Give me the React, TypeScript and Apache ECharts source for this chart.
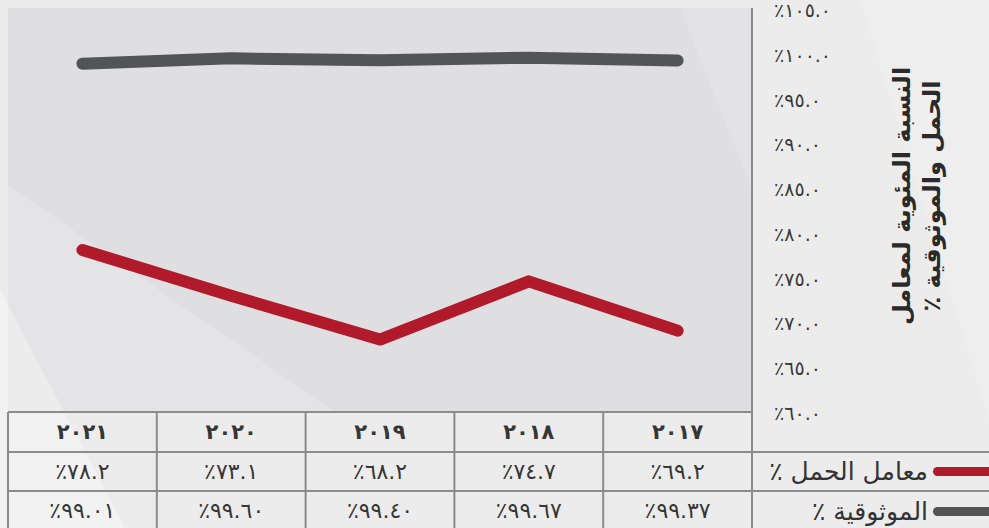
import React, { useEffect, useRef } from "react";
import * as echarts from "echarts";

// ---- data ----
const CATEGORIES = ["2017", "2018", "2019", "2020", "2021"];
const LOAD_FACTOR = [69.2, 74.7, 68.2, 73.1, 78.2];
const RELIABILITY = [99.37, 99.67, 99.4, 99.6, 99.01];
const SERIES_NAMES = ["معامل الحمل ٪", "الموثوقية ٪"];
const AXIS_TITLE = ["النسبة المئوية لمعامل", "الحمل والموثوقية ٪"];
const Y_MIN = 60;
const Y_MAX = 105;
const Y_STEP = 5;

const RLM = "\u200F";
const FONT = "DejaVu Sans";
const W = 989;
const H = 528;
const G_LEFT = 8;
const G_RIGHT_X = 752;
const G_TOP = 10;
const G_BOTTOM_Y = 413;

const toAr = (s: string) => s.replace(/[0-9]/g, (d) => "٠١٢٣٤٥٦٧٨٩"[+d]);
const pct = (v: number, dec: number) => "٪" + toAr(v.toFixed(dec));

export default function App() {
  const ref = useRef<HTMLDivElement>(null);
  useEffect(() => {
    document.body.style.margin = "0";
    const chart = echarts.init(ref.current!, null, { renderer: "svg" });
    const lineColor = "#8b8b8b";
    const colW = (G_RIGHT_X - G_LEFT) / CATEGORIES.length;
    const lines: any[] = [];
    const hl = (x1: number, x2: number, y: number) =>
      lines.push({ type: "line", shape: { x1, y1: y, x2, y2: y }, style: { stroke: lineColor, lineWidth: 2 }, z: 5 });
    const vl = (x: number, y1: number, y2: number) =>
      lines.push({ type: "line", shape: { x1: x, y1, x2: x, y2 }, style: { stroke: lineColor, lineWidth: 2 }, z: 5 });
    hl(G_LEFT, G_RIGHT_X, 412);
    hl(G_LEFT, W, 452);
    hl(G_LEFT, W, 491);
    for (let i = 0; i < CATEGORIES.length; i++) vl(G_LEFT + i * colW, 412, H);
    vl(G_RIGHT_X, 8, H);

    const valueAxis = (offset: number, fmt: (v: string) => string, bold = false) => ({
      type: "category",
      data: CATEGORIES,
      inverse: true,
      boundaryGap: true,
      position: "bottom",
      offset,
      axisLine: { show: false },
      axisTick: { show: false },
      splitLine: { show: false },
      axisLabel: {
        formatter: fmt,
        fontSize: bold ? 21 : 22,
        fontWeight: bold ? "bold" : "normal",
        color: "#363636",
        margin: 19,
        verticalAlign: "middle",
        fontFamily: FONT,
        interval: 0,
      },
    });

    chart.setOption({
      animation: false,
      backgroundColor: "#ececec",
      grid: { left: G_LEFT, right: W - G_RIGHT_X, top: G_TOP, bottom: H - G_BOTTOM_Y },
      xAxis: [
        valueAxis(0, (v: string) => toAr(v), true),
        valueAxis(39, (v: string) => pct(LOAD_FACTOR[CATEGORIES.indexOf(v)], 1)),
        valueAxis(78, (v: string) => pct(RELIABILITY[CATEGORIES.indexOf(v)], 2)),
      ],
      yAxis: {
        type: "value",
        position: "right",
        min: Y_MIN,
        max: Y_MAX,
        interval: Y_STEP,
        axisLine: { show: false },
        axisTick: { show: false },
        splitLine: { show: false },
        axisLabel: {
          formatter: (v: number) => pct(v, 1),
          fontSize: 19,
          color: "#3a3a3a",
          margin: 22,
          align: "left",
          fontFamily: FONT,
        },
      },
      legend: {
        orient: "vertical",
        right: 0,
        top: 458,
        align: "right",
        padding: 0,
        itemWidth: 56,
        itemHeight: 9,
        itemGap: 13,
        icon: "path://M4.5,0L56,0L56,9L4.5,9A4.5,4.5,0,0,1,4.5,0Z",
        textStyle: { fontSize: 25, color: "#333", fontFamily: FONT, lineHeight: 27 },
        data: SERIES_NAMES.map((n) => n + RLM),
      },
      series: [
        {
          name: SERIES_NAMES[0] + RLM,
          type: "line",
          data: LOAD_FACTOR,
          color: "#b01a2b",
          symbol: "none",
          lineStyle: { width: 12, cap: "round", join: "round", color: "#b01a2b" },
          z: 3,
        },
        {
          name: SERIES_NAMES[1] + RLM,
          type: "line",
          data: RELIABILITY,
          color: "#535456",
          symbol: "none",
          lineStyle: { width: 12, cap: "round", join: "round", color: "#535456" },
          z: 3,
        },
      ],
      graphic: [
        { type: "rect", shape: { x: G_LEFT, y: 8, width: G_RIGHT_X - G_LEFT, height: 404 }, style: { fill: "#dfdfe1" }, z: -20, silent: true },
        { type: "polygon", shape: { points: [[G_LEFT, 185], [335, 412], [G_LEFT, 412]] }, style: { fill: "rgba(255,255,255,0.18)" }, z: -19, silent: true },
        { type: "polygon", shape: { points: [[0, 290], [125, H], [0, H]] }, style: { fill: "rgba(255,255,255,0.3)" }, z: -18, silent: true },
        { type: "polygon", shape: { points: [[680, 8], [G_RIGHT_X, 8], [G_RIGHT_X, 190]] }, style: { fill: "rgba(255,255,255,0.15)" }, z: -19, silent: true },
        { type: "polygon", shape: { points: [[860, 0], [W, 0], [W, 420]] }, style: { fill: "rgba(255,255,255,0.15)" }, z: -19, silent: true },
        ...lines,
        {
          type: "text",
          x: 917,
          y: 196,
          rotation: Math.PI / 2,
          z: 10,
          style: {
            text: AXIS_TITLE[0] + "\n" + AXIS_TITLE[1] + RLM,
            fontSize: 24,
            fontWeight: "bold",
            fontFamily: FONT,
            fill: "#2a2a2a",
            align: "center",
            verticalAlign: "middle",
            lineHeight: 30,
          },
        },
      ],
    });
    return () => chart.dispose();
  }, []);
  return <div ref={ref} style={{ width: W, height: H }} />;
}
